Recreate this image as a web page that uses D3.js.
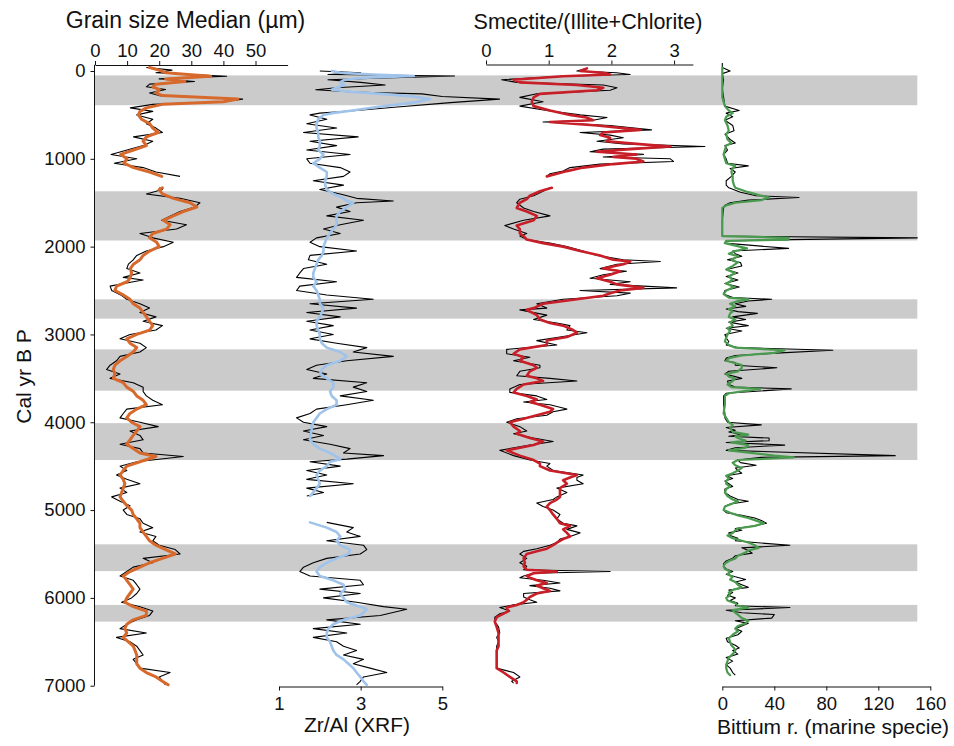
<!DOCTYPE html>
<html>
  <head>
    <meta charset="utf-8">
    <title>Core proxies vs Cal yr BP</title>
    <script src="https://d3js.org/d3.v7.min.js"></script>
    <style>
      body { margin: 0; background: #fff; }
      svg { display: block; font-family: "Liberation Sans", Arial, sans-serif; }
      .axis path, .axis line { stroke: #111; stroke-width: 1px; }
      .axis text { font-size: 18.5px; fill: #111; font-family: "Liberation Sans", Arial, sans-serif; }
      .title { fill: #111; }
      .raw { fill: none; stroke: #000; stroke-width: 1.1px; stroke-linejoin: round; }
      .smooth { fill: none; stroke-linejoin: round; stroke-linecap: round; }
    </style>
  </head>
  <body>
    <svg id="chart" width="954" height="746"></svg>
    <script>
      // grey intervals (cal yr BP)
      var bandStarts = [50, 1370, 2600, 3170, 4010, 5390, 6080];
      var bandEnds = [390, 1930, 2820, 3640, 4430, 5695, 6270];

      // tick labels
      var ageTicks = [0, 1000, 2000, 3000, 4000, 5000, 6000, 7000];
      var grainTicks = [0, 10, 20, 30, 40, 50];
      var zrTicks = [1, 3, 5];
      var smecTicks = [0, 1, 2, 3];
      var bittTicks = [0, 40, 80, 120, 160];

      // [age, raw value, smoothed value]; null = no data
      var grainSize = [
        [-40, 16, 17], [-10, 24, 20], [20, 19, 22], [60, 41, 36], [90, 20, 22], [120, 31, 28],
        [150, 17, 19], [180, 16, 18], [210, 22, 20], [250, 17, 19], [280, 20, 21], [320, 46, 44.5],
        [350, 40, 40], [380, 18, 21], [420, 11, 16], [460, 18, 14], [500, 13, 13.5], [550, 18, 14.5],
        [600, 16, 17], [650, 19, 18], [700, 21, 19.7], [750, 12, 16], [800, 18, 15], [850, 15, 16],
        [900, 10, 12], [950, 5, 8], [1000, 13, 10], [1050, 6, 9], [1100, 15, 12], [1150, 19, 17],
        [1200, 26.5, 20.8], [1260, null, null],
        [1330, 20, 21], [1350, 21, 20], [1400, 16, 21], [1450, 26.5, 24.4], [1500, 32.7, 29.6],
        [1550, 31, 31.7], [1600, 26.5, 27.5], [1650, 23.5, 24.4], [1700, 20.8, 21.3], [1750, 28.5, 23.4],
        [1800, 25.4, 22.3], [1850, 14, 18], [1900, 18, 17], [1950, 24.4, 19.2], [2000, 21.3, 20],
        [2050, 16, 17], [2100, 13, 15], [2150, 11.9, 14], [2200, 10.4, 12], [2250, 9.9, 11],
        [2300, 14, 11.4], [2350, 8.8, 11], [2380, 15, 10.5], [2400, 11.9, 10], [2450, 4.7, 6.7],
        [2500, 5.2, 6.2], [2550, 8, 8.8], [2600, 9.9, 10.9], [2650, 14, 11.9], [2700, 17, 14],
        [2750, 14, 15], [2800, 19, 16], [2850, 15, 17], [2900, 21, 18], [2950, 19, 17],
        [3000, 10.9, 13], [3050, 7.8, 9.9], [3100, 14, 10.9], [3150, 16, 13], [3200, 14, 11.9],
        [3250, 7.8, 9.9], [3300, 6.7, 7.8], [3350, 4.7, 6.2], [3400, 3.6, 5.7], [3450, 7.8, 6.2],
        [3500, 4.7, 5.7], [3550, 11.9, 8.8], [3600, 15, 9.9], [3650, 15, 12], [3700, 16, 13],
        [3750, 18, 15], [3800, 21, 16], [3850, 9.9, 13], [3900, 8.8, 10.9], [3950, 7.8, 9.9],
        [4000, 14, 11.4], [4050, 19.7, 14], [4100, 10.9, 13], [4150, 14, 11.9], [4200, 15, 10.9],
        [4250, 7.8, 9.9], [4300, 14, 11.9], [4350, 15, 14], [4390, 27.5, 19], [4450, 13, 14],
        [4500, 7.8, 9.9], [4550, 9.9, 8.8], [4600, 6.7, 7.8], [4650, 9.9, 8.8], [4700, 14, 9.3],
        [4750, 7.8, 8.8], [4800, 9.9, 8.3], [4850, 5.2, 7.8], [4900, 7.8, 8.8], [4950, 10.9, 9.9],
        [5000, 8.8, 11.4], [5050, 9.9, 11.9], [5100, 14, 13], [5150, 15, 14], [5200, 18, 14],
        [5250, 14, 15], [5300, 19, 16], [5350, 18, 17], [5400, 20, 19], [5450, 25, 22],
        [5500, 26.5, 25], [5550, 15, 21], [5600, 18, 17], [5650, 11.9, 14], [5700, 9.9, 10.9],
        [5750, 7.8, 8.8], [5800, 11.9, 9.9], [5850, 13, 10.9], [5900, 14, 11.9], [5950, 13, 10.9],
        [6000, 11.4, 9.9], [6050, 8.3, 9.3], [6100, 14, 11.9], [6150, 18, 16], [6200, 17, 16],
        [6250, 13, 11.9], [6300, 9.9, 9.9], [6350, 7.8, 9.3], [6400, 16, 9.9], [6450, 6.7, 8.8],
        [6500, 10.9, 10.4], [6550, 13, 11.9], [6600, 14, 12.5], [6650, 15, 13], [6700, 11.9, 13],
        [6750, 13, 13], [6800, 14, 14], [6850, 23.4, 16], [6900, 20, 19], [6950, 21, 21],
        [6990, 22, 22.8]
      ];

      var zrAl = [
        [0, 2.0, 2.3], [20, 3.0, 2.5], [40, 2.2, 3.3], [57, 5.3, 4.3], [80, 3.6, 3.0], [100, 2.2, 2.6],
        [130, 3.0, 2.5], [160, 3.6, 2.6], [190, 2.4, 2.4], [213, 1.9, 2.3], [240, 2.8, 2.8],
        [260, 4.5, 3.5], [290, 5.0, 4.3], [320, 6.4, 4.7], [360, 5.2, 4.3], [410, 3.9, 3.4],
        [450, 2.9, 2.8], [480, 2.0, 2.3], [500, 1.76, 2.09], [550, 2.17, 1.96], [600, 1.68, 1.92],
        [650, 2.41, 1.92], [700, 1.6, 1.96], [750, 2.94, 1.96], [800, 1.76, 2.0], [850, 2.41, 2.0],
        [900, 1.68, 1.96], [950, 2.74, 2.09], [1000, 1.68, 2.0], [1050, 1.76, 1.84], [1100, 2.5, 2.0],
        [1150, 2.74, 2.17], [1200, 2.58, 2.17], [1250, 1.84, 2.13], [1300, 2.58, 2.13], [1350, 2.0, 2.17],
        [1400, 2.5, 2.33], [1450, 2.9, 2.58], [1480, 3.8, 2.66], [1500, 2.9, 2.82], [1550, 2.41, 2.66],
        [1600, 2.74, 2.5], [1650, 2.17, 2.41], [1700, 3.07, 2.41], [1750, 2.5, 2.41], [1800, 2.09, 2.33],
        [1850, 2.5, 2.25], [1900, 1.92, 2.17], [1950, 1.76, 2.13], [2000, 2.0, 2.09], [2050, 2.9, 2.09],
        [2100, 1.76, 2.05], [2150, 1.72, 1.96], [2200, 2.17, 1.92], [2250, 1.6, 1.88], [2300, 1.51, 1.84],
        [2350, 1.43, 1.84], [2400, 2.41, 1.92], [2450, 1.51, 1.84], [2500, 1.43, 1.92], [2550, 2.17, 1.96],
        [2600, 3.31, 2.0], [2650, 1.76, 2.0], [2700, 2.9, 2.09], [2750, 1.68, 2.05], [2800, 2.5, 2.0],
        [2850, 1.68, 1.92], [2900, 2.33, 1.92], [2950, 1.76, 1.96], [3000, 2.33, 2.0], [3050, 1.76, 2.0],
        [3100, 2.41, 2.05], [3150, 3.15, 2.17], [3200, 2.82, 2.5], [3250, 3.8, 2.66], [3300, 2.66, 2.5],
        [3350, 1.92, 2.17], [3400, 1.68, 2.05], [3450, 2.17, 2.0], [3500, 1.84, 2.17], [3550, 3.15, 2.33],
        [3600, 2.82, 2.33], [3650, 3.15, 2.25], [3700, 2.5, 2.29], [3750, 3.31, 2.41], [3800, 2.66, 2.41],
        [3850, 1.92, 2.17], [3900, 1.76, 2.0], [3950, 1.43, 1.92], [4000, 1.6, 1.84], [4050, 2.17, 1.8],
        [4100, 1.6, 1.8], [4150, 2.09, 1.76], [4200, 1.6, 1.76], [4250, 2.25, 1.84], [4300, 2.74, 2.0],
        [4350, 2.58, 2.25], [4380, 3.56, 2.37], [4420, 2.66, 2.5], [4450, 1.76, 2.25], [4500, 2.5, 2.17],
        [4550, 1.68, 2.0], [4600, 2.17, 1.92], [4650, 1.68, 1.96], [4700, 2.82, 2.0], [4750, 1.68, 1.92],
        [4800, 2.09, 1.84], [4840, 1.68, 1.76], [4990, null, null],
        [5140, 2.17, 1.76], [5200, 2.82, 2.17], [5250, 2.66, 2.41], [5300, 2.99, 2.5], [5350, 2.17, 2.41],
        [5400, 3.07, 2.5], [5450, 3.15, 2.74], [5500, 2.99, 2.7], [5550, 2.17, 2.41], [5600, 1.84, 2.17],
        [5650, 1.6, 2.0], [5700, 1.51, 1.92], [5750, 1.76, 2.0], [5800, 2.99, 2.33], [5850, 3.07, 2.58],
        [5900, 2.0, 2.62], [5950, 2.99, 2.5], [6000, 2.09, 2.58], [6050, 2.9, 2.66], [6100, 3.56, 2.99],
        [6130, 4.13, 3.15], [6200, 3.48, 2.99], [6250, 2.17, 2.58], [6300, 2.99, 2.33], [6350, 1.84, 2.21],
        [6400, 2.66, 2.17], [6450, 1.84, 2.17], [6500, 2.41, 2.25], [6550, 2.58, 2.29], [6600, 2.9, 2.33],
        [6650, 2.58, 2.41], [6700, 3.07, 2.58], [6750, 2.82, 2.7], [6800, 3.23, 2.82], [6850, 3.64, 2.9],
        [6900, 3.07, 2.99], [6950, 2.99, 3.07], [6990, 2.9, 3.15]
      ];

      var smectite = [
        [-30, 1.61, 1.61], [0, 1.45, 1.5], [20, 2.08, 1.87], [40, 2.3, 1.98], [60, 1.23, 1.23],
        [100, 0.25, 0.44], [130, 0.49, 0.54], [160, 1.87, 1.45], [190, 2.09, 1.87], [220, 1.98, 1.77],
        [260, 0.81, 0.86], [300, 0.54, 0.76], [350, 0.91, 0.73], [400, 0.54, 0.76], [450, 0.97, 1.02],
        [500, 1.5, 1.34], [530, 1.93, 1.6], [560, 1.71, 1.71], [580, 0.91, 1.02], [620, 1.98, 1.77],
        [670, 2.64, 2.46], [700, 1.5, 1.87], [730, 1.98, 1.82], [760, 2.19, 1.98], [800, 1.77, 1.93],
        [830, 2.19, 2.4], [860, 3.49, 2.94], [890, 1.87, 2.3], [920, 1.66, 1.77], [950, 2.51, 2.4],
        [980, 1.87, 2.03], [1000, 2.94, 2.4], [1030, 2.99, 2.51], [1060, 1.82, 2.03], [1100, 1.34, 1.55],
        [1140, 1.23, 1.29], [1170, 1.02, 1.13], [1200, 0.97, 0.97], [1260, null, null],
        [1330, 1.02, 1.05], [1370, 0.91, 0.86], [1420, 0.76, 0.7], [1460, 0.54, 0.65], [1500, 0.49, 0.54],
        [1560, 0.6, 0.49], [1600, 0.76, 0.65], [1650, 1.02, 0.81], [1700, 0.6, 0.76], [1760, 0.3, 0.49],
        [1800, 0.44, 0.54], [1850, 0.65, 0.54], [1880, 0.54, 0.6], [1920, 0.65, 0.65], [1960, 1.02, 0.91],
        [2000, 1.29, 1.23], [2050, 1.55, 1.5], [2100, 1.77, 1.82], [2150, 2.19, 2.03], [2170, 2.78, 2.3],
        [2200, 2.09, 2.19], [2250, 1.82, 1.87], [2280, 2.24, 2.14], [2320, 1.87, 1.98], [2360, 1.66, 1.77],
        [2400, 2.3, 1.98], [2430, 1.98, 2.09], [2470, 3.04, 2.51], [2500, 1.5, 2.14], [2530, 2.3, 1.98],
        [2560, 2.09, 1.87], [2600, 1.23, 1.45], [2650, 0.81, 0.91], [2700, 0.97, 0.76], [2720, 0.54, 0.65],
        [2780, 0.97, 0.81], [2830, 0.76, 0.86], [2870, 1.13, 1.02], [2900, 1.34, 1.23], [2950, 1.29, 1.39],
        [2980, 1.61, 1.45], [3030, 1.18, 1.29], [3070, 0.81, 0.97], [3120, 1.13, 0.97], [3170, 0.33, 0.54],
        [3220, 0.33, 0.44], [3260, 0.7, 0.6], [3300, 0.44, 0.54], [3350, 0.86, 0.76], [3380, 0.86, 0.81],
        [3420, 0.54, 0.7], [3470, 0.49, 0.65], [3500, 1.02, 0.81], [3530, 1.45, 0.91], [3570, 0.54, 0.6],
        [3620, 0.38, 0.49], [3660, 0.38, 0.44], [3700, 0.81, 0.65], [3740, 0.97, 0.81], [3770, 0.6, 0.7],
        [3800, 1.02, 0.86], [3850, 1.29, 1.07], [3880, 1.07, 1.02], [3920, 0.97, 0.81], [3960, 0.49, 0.6],
        [4000, 0.33, 0.38], [4050, 0.54, 0.44], [4100, 0.65, 0.54], [4130, 0.44, 0.49], [4180, 0.76, 0.7],
        [4220, 1.07, 0.91], [4260, 0.7, 0.76], [4320, 0.22, 0.33], [4380, 0.44, 0.54], [4430, 0.7, 0.76],
        [4470, 1.02, 0.86], [4500, 0.97, 0.86], [4550, 1.07, 1.02], [4600, 1.55, 1.45], [4630, 1.45, 1.34],
        [4660, 1.45, 1.23], [4700, 1.55, 1.29], [4750, 1.13, 1.18], [4800, 1.29, 1.18], [4850, 1.13, 1.18],
        [4880, 1.07, 1.13], [4920, 0.81, 1.02], [4960, 0.91, 0.97], [5000, 1.07, 1.02], [5050, 1.18, 1.07],
        [5100, 1.13, 1.13], [5150, 1.23, 1.18], [5180, 1.45, 1.34], [5220, 1.29, 1.23], [5260, 1.5, 1.29],
        [5300, 1.34, 1.34], [5330, 1.18, 1.23], [5370, 1.13, 1.13], [5400, 1.02, 1.07], [5440, 0.81, 0.97],
        [5470, 0.6, 0.81], [5500, 0.54, 0.65], [5550, 0.65, 0.6], [5600, 0.54, 0.62], [5640, 0.65, 0.6],
        [5680, 0.6, 0.65], [5700, 1.98, 1.13], [5720, 0.76, 0.76], [5750, 0.6, 0.65], [5770, 0.54, 0.7],
        [5800, 0.91, 0.81], [5830, 1.18, 0.97], [5860, 0.7, 0.81], [5890, 1.02, 0.91], [5920, 1.18, 1.02],
        [5950, 0.6, 0.81], [5990, 0.6, 0.7], [6020, 0.7, 0.65], [6050, 0.81, 0.6], [6080, 0.44, 0.49],
        [6110, 0.22, 0.33], [6150, 0.38, 0.36], [6180, 0.22, 0.28], [6220, 0.14, 0.17], [6270, 0.14, 0.14],
        [6330, 0.2, 0.17], [6400, 0.22, 0.2], [6450, 0.17, 0.2], [6500, 0.2, 0.2], [6550, 0.17, 0.2],
        [6600, 0.17, 0.17], [6700, 0.17, 0.17], [6800, 0.17, 0.17], [6850, 0.44, 0.28], [6900, 0.54, 0.38],
        [6950, 0.41, 0.49], [6970, 0.44, 0.49]
      ];

      var bittium = [
        [-90, 0, null], [-40, 0, 0], [0, 6, 0], [30, 0, 0], [100, 1, 0], [200, 0, 0], [300, 1, 0],
        [400, 2, 2], [450, 13, 5], [480, 3, 8], [520, 8, 3], [560, 2, 2], [620, 8, 4], [680, 9, 5],
        [720, 2, 3], [780, 6, 4], [820, 10, 7], [850, 2, 3], [900, 4, 2], [950, 1, 1], [1000, 3, 2],
        [1050, 4, 3], [1080, 20, 10], [1110, 6, 8], [1150, 10, 7], [1200, 7, 8], [1250, 3, 8],
        [1300, 3, 9], [1330, 5, 10], [1380, 14, 20], [1420, 26, 30], [1440, 59, 36], [1470, 20, 30],
        [1500, 6, 10], [1530, 2, 3], [1560, 1, 0], [1700, 0, 0], [1880, 0, 0], [1900, 150, 51],
        [1920, 52, 51], [1935, 3, 3], [1960, 2, 2], [2020, 51, 19], [2050, 8, 10], [2080, 10, 5],
        [2110, 15, 12], [2150, 4, 7], [2180, 14, 12], [2220, 15, 8], [2260, 3, 3], [2300, 12, 10],
        [2340, 3, 5], [2380, 12, 8], [2420, 2, 3], [2460, 13, 9], [2500, 2, 3], [2540, 1, 1],
        [2580, 8, 5], [2600, 38, 20], [2620, 20, 12], [2650, 10, 6], [2680, 18, 10], [2710, 3, 5],
        [2740, 12, 8], [2760, 27, 6], [2800, 8, 5], [2830, 18, 10], [2860, 5, 6], [2900, 20, 8],
        [2930, 3, 4], [2960, 15, 6], [3000, 2, 4], [3040, 3, 3], [3080, 5, 2], [3120, 3, 5],
        [3150, 12, 10], [3180, 85, 48], [3210, 45, 40], [3240, 10, 15], [3270, 3, 5], [3300, 2, 3],
        [3320, 10, 8], [3350, 10, 15], [3380, 42, 15], [3420, 5, 12], [3450, 2, 3], [3480, 10, 5],
        [3500, 15, 10], [3530, 4, 8], [3570, 5, 4], [3600, 10, 7], [3620, 53, 29], [3670, 3, 5],
        [3700, 1, 2], [3800, 1, 2], [3900, 2, 1], [3950, 2, 3], [4000, 4, 5], [4030, 30, 8],
        [4060, 3, 6], [4090, 10, 7], [4110, 5, 8], [4140, 15, 20], [4160, 5, 10], [4180, 36, 12],
        [4210, 36, 18], [4230, 3, 7], [4260, 48, 20], [4290, 10, 18], [4320, 3, 5], [4380, 133, 40],
        [4400, 30, 55], [4430, 12, 12], [4460, 14, 8], [4490, 26, 10], [4520, 10, 15], [4550, 12, 12],
        [4580, 15, 8], [4610, 3, 3], [4640, 8, 5], [4670, 2, 3], [4700, 5, 3], [4730, 8, 6],
        [4760, 2, 3], [4800, 2, 2], [4840, 6, 4], [4880, 12, 8], [4900, 20, 12], [4930, 6, 7],
        [4960, 2, 2], [5000, 1, 1], [5030, 3, 6], [5060, 15, 12], [5090, 25, 20], [5120, 30, 26],
        [5150, 34, 32], [5180, 25, 25], [5210, 10, 12], [5230, 15, 10], [5260, 5, 8], [5290, 6, 4],
        [5320, 12, 8], [5350, 10, 15], [5370, 25, 20], [5400, 52, 25], [5430, 15, 28], [5460, 20, 20],
        [5490, 23, 17], [5520, 10, 12], [5550, 8, 10], [5580, 3, 5], [5610, 1, 2], [5640, 1, 1],
        [5670, 3, 2], [5700, 8, 6], [5730, 3, 4], [5760, 10, 8], [5790, 18, 6], [5820, 10, 10],
        [5850, 15, 12], [5880, 20, 15], [5910, 5, 8], [5940, 8, 5], [5970, 4, 6], [6000, 10, 3],
        [6030, 6, 4], [6060, 12, 10], [6090, 10, 12], [6110, 52, 20], [6140, 3, 8], [6170, 15, 10],
        [6190, 40, 12], [6230, 38, 15], [6260, 10, 20], [6290, 20, 18], [6320, 15, 12], [6350, 10, 10],
        [6380, 15, 12], [6420, 12, 8], [6460, 3, 5], [6500, 4, 6], [6540, 10, 7], [6570, 13, 9],
        [6600, 8, 10], [6640, 12, 8], [6680, 3, 5], [6720, 8, 4], [6760, 3, 3], [6800, 6, 3],
        [6850, 8, 4], [6880, 10, 6]
      ];

      // name page elements
      chart = d3.select("#chart");

      // scales
      y = d3.scaleLinear().domain([0, 7000]).range([71, 685.7]);
      grainX = d3.scaleLinear().domain([0, 60]).range([95, 287.6]);
      zrX = d3.scaleLinear().domain([1, 5]).range([279, 442.3]);
      smecX = d3.scaleLinear().domain([0, 3.3]).range([486, 692.9]);
      bittX = d3.scaleLinear().domain([0, 160]).range([722.3, 930.3]);

      // grey bands
      chart.append("g")
        .selectAll("rect")
        .data(bandStarts)
        .enter().append("rect")
          .attr("x", grainX(0))
          .attr("width", bittX(150) - grainX(0))
          .attr("y", function(d) { return y(d); })
          .attr("height", function(d, i) { return y(bandEnds[i]) - y(d); })
          .attr("fill", "#cbcbcb");

      // curves
      function drawSeries(data, x, colour, width) {
        var raw = d3.line()
          .defined(function(d) { return d[1] != null; })
          .x(function(d) { return x(d[1]); })
          .y(function(d) { return y(d[0]); });
        var smooth = d3.line()
          .defined(function(d) { return d[2] != null; })
          .x(function(d) { return x(d[2]); })
          .y(function(d) { return y(d[0]); });
        chart.append("path")
          .attr("class", "raw")
          .attr("d", raw(data));
        chart.append("path")
          .attr("class", "smooth")
          .attr("d", smooth(data))
          .attr("stroke", colour)
          .attr("stroke-width", width);
      }
      drawSeries(grainSize, grainX, "#d8692c", 3);
      drawSeries(zrAl, zrX, "#9fc3ea", 2.6);
      drawSeries(smectite, smecX, "#c81e28", 2.6);
      drawSeries(bittium, bittX, "#4a9b4f", 2.2);

      // axes
      var fmt = d3.format("d");
      yAxisGroup = chart.append("g")
        .attr("class", "axis")
        .attr("transform", "translate(94.5, 0)")
        .call(d3.axisLeft(y).tickValues(ageTicks).tickSize(4).tickPadding(5).tickSizeOuter(0).tickFormat(fmt));
      yAxisGroup.select(".domain")
        .attr("d", "M0," + y(-70) + "V" + y(7000));

      chart.append("g")
        .attr("class", "axis")
        .attr("transform", "translate(0, 65)")
        .call(d3.axisTop(grainX).tickValues(grainTicks).tickSize(4).tickPadding(4).tickSizeOuter(0).tickFormat(fmt));

      chart.append("g")
        .attr("class", "axis")
        .attr("transform", "translate(0, 64.5)")
        .call(d3.axisTop(smecX).tickValues(smecTicks).tickSize(4).tickPadding(4).tickSizeOuter(0).tickFormat(fmt));

      chart.append("g")
        .attr("class", "axis")
        .attr("transform", "translate(0, 686.5)")
        .call(d3.axisBottom(zrX).tickValues(zrTicks).tickSize(4).tickPadding(6).tickSizeOuter(0).tickFormat(fmt));

      chart.append("g")
        .attr("class", "axis")
        .attr("transform", "translate(0, 686.5)")
        .call(d3.axisBottom(bittX).tickValues(bittTicks).tickSize(4).tickPadding(6).tickSizeOuter(0).tickFormat(fmt));

      // titles
      chart.append("text").attr("class", "title")
        .attr("x", 185.5).attr("y", 28).attr("text-anchor", "middle")
        .style("font-size", "23px")
        .text("Grain size Median (µm)");
      chart.append("text").attr("class", "title")
        .attr("x", 588).attr("y", 29).attr("text-anchor", "middle")
        .style("font-size", "21.5px")
        .text("Smectite/(Illite+Chlorite)");
      chart.append("text").attr("class", "title")
        .attr("x", 357).attr("y", 732).attr("text-anchor", "middle")
        .style("font-size", "21px")
        .text("Zr/Al (XRF)");
      chart.append("text").attr("class", "title")
        .attr("x", 833).attr("y", 734).attr("text-anchor", "middle")
        .style("font-size", "21px")
        .text("Bittium r. (marine specie)");
      chart.append("text").attr("class", "title")
        .attr("transform", "translate(31, 376.5) rotate(-90)")
        .attr("text-anchor", "middle")
        .style("font-size", "21px")
        .text("Cal yr B P");
    </script>
  </body>
</html>
